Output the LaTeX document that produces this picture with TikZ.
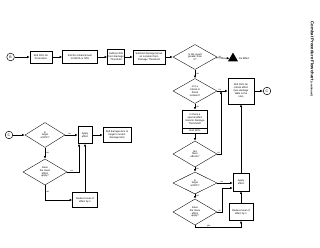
\documentclass[tikz,border=0pt]{standalone}
\usepackage{fontspec}
\setmainfont{Liberation Sans}
\setsansfont{Liberation Sans}
\usetikzlibrary{arrows.meta,shapes.geometric,positioning,shadows}

\begin{document}
\begin{tikzpicture}[x=1cm,y=1cm]
\tikzset{
  stepbox/.style={rectangle,draw,line width=0.5pt,fill=white,align=center,inner sep=0.5pt,
    drop shadow={shadow xshift=0.5pt,shadow yshift=-0.5pt,fill=black!35},
    font=\sffamily\fontsize{3.6}{4.2}\selectfont},
  choice/.style={diamond,draw,line width=0.5pt,fill=white,align=center,inner sep=0pt,aspect=2.2,
    minimum width=2.2cm,font=\sffamily\fontsize{3.6}{4.0}\selectfont},
  connector/.style={circle,draw,line width=0.7pt,minimum size=0.38cm,inner sep=0pt,font=\sffamily\fontsize{5}{5}\selectfont},
  directed/.style={-{Latex[length=1.4mm,width=1.2mm]},line width=0.8pt},
  lbl/.style={font=\sffamily\fontsize{3}{3.5}\selectfont,inner sep=0.6pt}
}
\useasboundingbox (0,0) rectangle (16.00,-12.35);

% top row
\node[connector] (n_b) at (0.53,-2.85) {B};
\node[stepbox,minimum width=1.10cm,minimum height=0.60cm] (n_hit) at (2.05,-2.85) {Roll 1D\% for\\hit location};
\node[stepbox,minimum width=1.75cm,minimum height=0.65cm] (n_enh) at (4.00,-2.85) {Roll for enhancement\\to NOVA or NTA};
\node[stepbox,minimum width=0.85cm,minimum height=0.75cm] (n_sub) at (5.80,-2.85) {Subtract DR\\from Damage\\Threshold};
\node[stepbox,minimum width=1.60cm,minimum height=0.70cm] (n_bonus) at (7.45,-2.85) {Subtract damage bonus\\on Location from\\Damage Threshold};
\node[choice,minimum height=1.25cm] (n_pos) at (9.75,-2.85) {Is the result\\greater than\\0?};
\node[regular polygon,regular polygon sides=3,fill=black,minimum size=0.58cm,inner sep=0pt,
  label={[font=\sffamily\fontsize{3.6}{4.2}\selectfont]right:No Effect}] (n_none) at (11.65,-2.92) {};

% right column
\node[choice,minimum height=1.25cm] (n_crit) at (9.75,-4.55) {Is it a\\critical or\\threat\\location?};
\node[stepbox,minimum width=1.30cm,minimum height=1.30cm] (n_critfx) at (12.05,-4.55) {Roll 1D\% for\\critical effect\\(see damage\\table in the\\rule)};
\node[connector] (n_c1) at (13.35,-4.55) {C};
\node[stepbox,minimum width=1.25cm,minimum height=0.90cm] (n_spec) at (9.75,-5.95) {Is there a\\special effect\\listed in Damage\\Threshold?};
\node[stepbox,minimum width=1.25cm,minimum height=0.25cm,below=0pt of n_spec] (n_roll) {Roll 1D\%};
\node[choice,minimum height=1.30cm] (n_fx) at (9.75,-7.70) {Are\\there\\effects?};
\node[choice,minimum height=1.10cm] (n_npc) at (9.75,-9.15) {Is\\target\\a NPC?};
\node[choice,minimum height=1.30cm] (n_mass) at (9.75,-10.60) {Does\\the mass\\effect\\apply?};
\node[stepbox,minimum width=0.80cm,minimum height=0.90cm] (n_apply) at (12.05,-9.10) {Apply\\effect};
\node[stepbox,minimum width=1.20cm,minimum height=0.85cm] (n_reduce) at (12.05,-10.60) {Reduce level of\\effect by 1};
\coordinate (n_join) at (11.05,-4.55);

% left part
\node[connector] (n_c2) at (0.45,-6.75) {C};
\node[choice,minimum width=2.00cm,minimum height=1.25cm] (n_npc2) at (2.25,-6.75) {Is\\target\\a NPC?};
\node[stepbox,minimum width=0.70cm,minimum height=0.85cm] (n_apply2) at (4.25,-6.75) {Apply\\effect};
\node[stepbox,minimum width=1.40cm,minimum height=0.75cm] (n_dmg) at (5.85,-6.75) {Roll damage dice to\\target's current\\damage total};
\node[choice,minimum height=1.30cm] (n_mass2) at (2.25,-8.60) {Does\\the mass\\effect\\apply?};
\node[stepbox,minimum width=1.25cm,minimum height=0.75cm] (n_reduce2) at (4.25,-10.00) {Reduce level of\\effect by 1};

\node[font=\sffamily\fontsize{6}{7}\selectfont\bfseries,rotate=-90] (n_title) at (15.60,-2.95)
  {Combat Procedure Flowchart {\fontsize{3.8}{4}\selectfont(continued)}};

\draw[directed] (n_b) -- (n_hit);
\draw[directed] (n_hit) -- (n_enh);
\draw[directed] (n_enh) -- (n_sub);
\draw[directed] (n_sub) -- (n_bonus);
\draw[directed] (n_bonus) -- (n_pos);
\draw[directed] (n_pos) -- node[lbl,above,pos=0.3] {no} (n_none);
\draw[directed] (n_pos) -- node[lbl,right] {yes} (n_crit);
\draw[directed] (n_crit) -- node[lbl,above,pos=0.25] {no} (n_critfx);
\draw[directed] (n_critfx) -- (n_c1);
\draw[directed] (n_crit) -- node[lbl,right] {yes} (n_spec);
\draw[directed] (n_roll) -- (n_fx);
\draw[directed] (n_fx.east) -| node[lbl,above,pos=0.2] {no} (n_join);
\draw[directed] (n_fx) -- node[lbl,right] {yes} (n_npc);
\draw[directed] (n_npc.east) -- node[lbl,above,pos=0.3] {no} (n_npc.east -| n_apply.west);
\draw[directed] (n_npc) -- node[lbl,right] {yes} (n_mass);
\draw[directed] (n_mass.east) -- node[lbl,above] {no} ++(0.25,0) |- ([yshift=-0.3cm]n_apply.west);
\draw[directed] (n_mass.south) -- ++(0,-0.12) -| node[lbl,above,pos=0.15] {yes} (n_reduce.south);
\draw[directed] (n_reduce) -- (n_apply);
\draw[directed] (n_apply) -- (n_critfx);

\draw[directed] (n_c2) -- (n_npc2);
\draw[directed] (n_npc2) -- node[lbl,above,pos=0.35] {no} (n_apply2);
\draw[directed] (n_apply2) -- (n_dmg);
\draw[directed] (n_npc2) -- node[lbl,right] {yes} (n_mass2);
\draw[directed] (n_mass2.east) -| node[lbl,above,pos=0.2] {no} ([xshift=-0.3cm]n_apply2.south);
\draw[directed] (n_mass2.south) |- node[lbl,right,pos=0.25] {yes} (n_reduce2.west);
\draw[directed] (n_reduce2) -- (n_apply2);
\end{tikzpicture}
\end{document}
